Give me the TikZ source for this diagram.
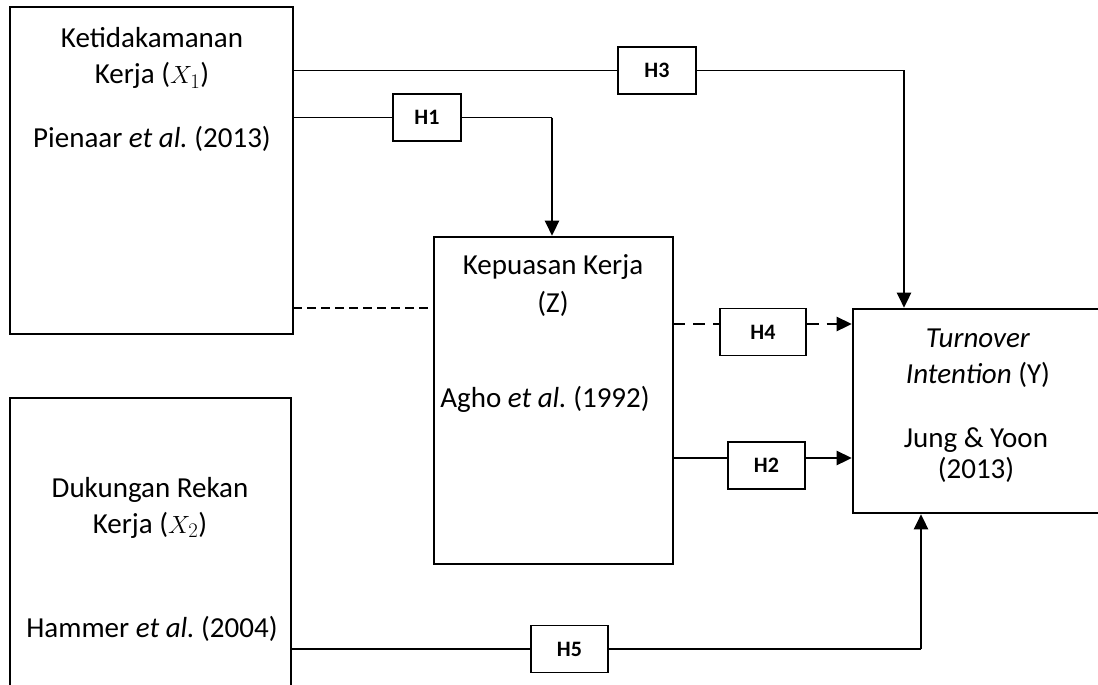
\documentclass[tikz,border=0pt]{standalone}
\usepackage{fontspec}
\setmainfont{Carlito}
\usepackage{tikz}
\usetikzlibrary{arrows.meta,calc,positioning}
\frenchspacing

\newcommand{\boxfont}{\fontsize{29}{36}\selectfont}

\begin{document}
\begin{tikzpicture}[x=1pt, y=-1pt,
    varbox/.style={draw, rectangle, line width=2.6pt, inner sep=0pt},
    hypbox/.style={draw, rectangle, line width=1.2pt, fill=white, minimum height=47pt, font=\fontsize{22}{26}\selectfont\bfseries},
    txt/.style={align=center, anchor=base, font=\boxfont},
    linethin/.style={line width=1.3pt},
    linethick/.style={line width=2.6pt},
    tip/.style={-{Triangle[length=15pt,width=14pt]}}]
    \useasboundingbox (0,0) rectangle (1098,685);

    % Variable boxes
    \node[varbox, minimum width=283pt, minimum height=327pt] (x1box) at (151.5,170.5) {};
    \node[varbox, minimum width=281pt, minimum height=302pt] (x2box) at (150.5,549) {};
    \node[varbox, minimum width=239pt, minimum height=327pt] (zbox) at (553.5,400.5) {};
    \node[varbox, minimum width=257pt, minimum height=204pt] (ybox) at (981.5,411) {};

    % Box texts (base = last line)
    \node[txt] (x1name) at (152,84) {Ketidakamanan\\Kerja ($X_1$)};
    \node[txt] (x1ref) at (152,147) {Pienaar \textit{et al.} (2013)};
    \node[txt] (x2name) at (150,533) {Dukungan Rekan\\Kerja ($X_2$)};
    \node[txt] (x2ref) at (152,637) {Hammer \textit{et al.} (2004)};
    \node[txt] (zname) at (553,312) {Kepuasan Kerja\\[2pt](Z)};
    \node[txt] (zref) at (545,407) {Agho \textit{et al.} (1992)};
    \node[txt] (yname) at (978,383) {\textit{Turnover}\\\textit{Intention} (Y)};
    \node[txt] (yref) at (976,478) {Jung \& Yoon\\[-5pt](2013)};

    % Hypothesis boxes
    \node[hypbox, minimum width=68pt] (h1) at (427,117.5) {H1};
    \node[hypbox, minimum width=78pt] (h3) at (657,70.5) {H3};
    \node[hypbox, minimum width=86pt] (h4) at (763,332) {H4};
    \node[hypbox, minimum width=77pt] (h2) at (766.5,465.5) {H2};
    \node[hypbox, minimum width=77pt] (h5) at (569.5,649) {H5};

    % Corner points
    \coordinate (h1corner) at (552,117.5);
    \coordinate (h3corner) at (904,70.5);
    \coordinate (h5corner) at (921,649);
    \coordinate (dashstart) at (293,308);
    \coordinate (h4start) at (673,324);
    \coordinate (h2start) at (673,458);

    % H1
    \draw[linethin] (x1box.east |- h1) -- (h1.west);
    \draw[linethin] (h1.east) -- (h1corner);
    \draw[linethick, tip] (h1corner) -- (h1corner |- zbox.north);

    % H3
    \draw[linethin] (x1box.east |- h3) -- (h3.west);
    \draw[linethin] (h3.east) -- (h3corner);
    \draw[linethick, tip] (h3corner) -- (h3corner |- ybox.north);

    % Dashed link X1 - Z
    \draw[linethin, dash pattern=on 9pt off 5pt] (dashstart) -- (dashstart -| zbox.west);

    % H4
    \draw[linethick, dash pattern=on 12pt off 8pt] (h4start) -- (h4start -| h4.west);
    \draw[linethick, dash pattern=on 12pt off 8pt, tip] (h4start -| h4.east) -- (h4start -| ybox.west);

    % H2
    \draw[linethick] (h2start) -- (h2start -| h2.west);
    \draw[linethick, tip] (h2start -| h2.east) -- (h2start -| ybox.west);

    % H5
    \draw[linethin] (x2box.east |- h5) -- (h5.west);
    \draw[linethin] (h5.east) -- (h5corner);
    \draw[linethick, tip] (h5corner) -- (h5corner |- ybox.south);
\end{tikzpicture}
\end{document}
